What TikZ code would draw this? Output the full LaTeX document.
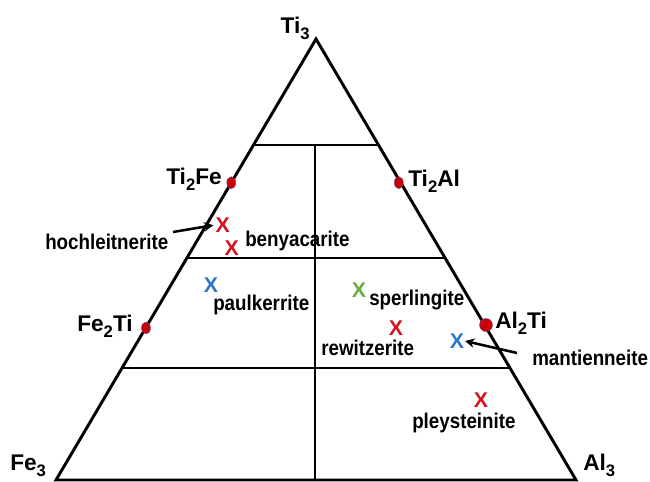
\documentclass[tikz,border=0pt]{standalone}
\usepackage{fontspec}
\setmainfont{Liberation Sans}
\newfontfamily\condsans[FakeStretch=0.88]{Liberation Sans}
\usetikzlibrary{arrows.meta}
\definecolor{dotred}{RGB}{200,0,10}
\definecolor{xred}{RGB}{210,20,30}
\definecolor{xblue}{RGB}{45,120,200}
\definecolor{xgreen}{RGB}{105,175,60}
\newcommand\lowsub[1]{\raisebox{-0.3em}{\fontsize{12.5}{13}\selectfont #1}}
\tikzset{
  edge/.style={line width=2.2pt, line join=miter},
  grid/.style={line width=1.5pt},
  vlabel/.style={font=\fontsize{17}{19}\selectfont\bfseries, inner sep=0pt},
  mlabel/.style={font=\condsans\fontsize{16}{18}\selectfont\bfseries, inner sep=0pt},
  xmark/.style={font=\fontsize{16}{18}\selectfont\bfseries, inner sep=0.5pt},
  vdot/.style={fill=dotred, draw=xblue!60!dotred, line width=0.3pt},
  pointer/.style={line width=1.9pt, -{Stealth[length=7pt,width=7pt]}}
}
\begin{document}
\begin{tikzpicture}[x=0.75pt,y=-0.75pt]
\useasboundingbox (0,0) rectangle (650,482);
% vertices
\coordinate (A) at (316,39);
\coordinate (B) at (56,480);
\coordinate (C) at (576,480);
% grid end points
\coordinate (h1l) at (253.5,145); \coordinate (h1r) at (378.5,145);
\coordinate (h2l) at (187,258);   \coordinate (h2r) at (445,258);
\coordinate (h3l) at (121.4,368); \coordinate (h3r) at (510.6,368);
\coordinate (vt) at (315,145);    \coordinate (vb) at (315,480);
\draw[grid] (h1l) -- (h1r);
\draw[grid] (h2l) -- (h2r);
\draw[grid] (h3l) -- (h3r);
\draw[grid] (vt) -- (vb);
\draw[edge] (A) -- (B) -- (C) -- cycle;
% vertex labels
\node[vlabel, anchor=base east] (lTi3) at (310,33) {Ti\lowsub{3}};
\node[vlabel, anchor=base east] (lTi2Fe) at (222,184) {Ti\lowsub{2}Fe};
\node[vlabel, anchor=base west] (lTi2Al) at (408,186) {Ti\lowsub{2}Al};
\node[vlabel, anchor=base east] (lFe2Ti) at (133,331) {Fe\lowsub{2}Ti};
\node[vlabel, anchor=base west] (lAl2Ti) at (495,328) {Al\lowsub{2}Ti};
\node[vlabel, anchor=base west] (lFe3) at (10,470) {Fe\lowsub{3}};
\node[vlabel, anchor=base west] (lAl3) at (583,470) {Al\lowsub{3}};
% dots
\path[vdot] (231.3,182.7) ellipse [x radius=4.5, y radius=6];
\path[vdot] (398.8,182.7) ellipse [x radius=4.5, y radius=6];
\path[vdot] (146,328) ellipse [x radius=4.5, y radius=6];
\path[vdot] (486,325) circle [radius=6.5];
% marks
\node[xmark, text=xred]   (xh) at (222.7,225) {X};
\node[xmark, text=xred]   (xb) at (231.7,248.5) {X};
\node[xmark, text=xblue]  (xp) at (211,285) {X};
\node[xmark, text=xgreen] (xs) at (359,290) {X};
\node[xmark, text=xred]   (xr) at (396,328) {X};
\node[xmark, text=xblue]  (xm) at (457,341) {X};
\node[xmark, text=xred]   (xy) at (481,400) {X};
% mineral names
\node[mlabel, anchor=base west] (nh) at (45,249) {hochleitnerite};
\node[mlabel, anchor=base west] (nb) at (245,246) {benyacarite};
\node[mlabel, anchor=base west] (np) at (213,310) {paulkerrite};
\node[mlabel, anchor=base west] (ns) at (369,305) {sperlingite};
\node[mlabel, anchor=base west] (nr) at (321,355) {rewitzerite};
\node[mlabel, anchor=base west] (ny) at (412,428) {pleysteinite};
\node[mlabel, anchor=base west] (nm) at (532,365) {mantienneite};
% pointers
\coordinate (ph) at (173,232);
\coordinate (pm) at (517,353);
\draw[pointer, shorten >=1pt] (ph) -- (xh.west);
\draw[pointer, shorten >=0pt] (pm) -- (xm.east);
\end{tikzpicture}
\end{document}
